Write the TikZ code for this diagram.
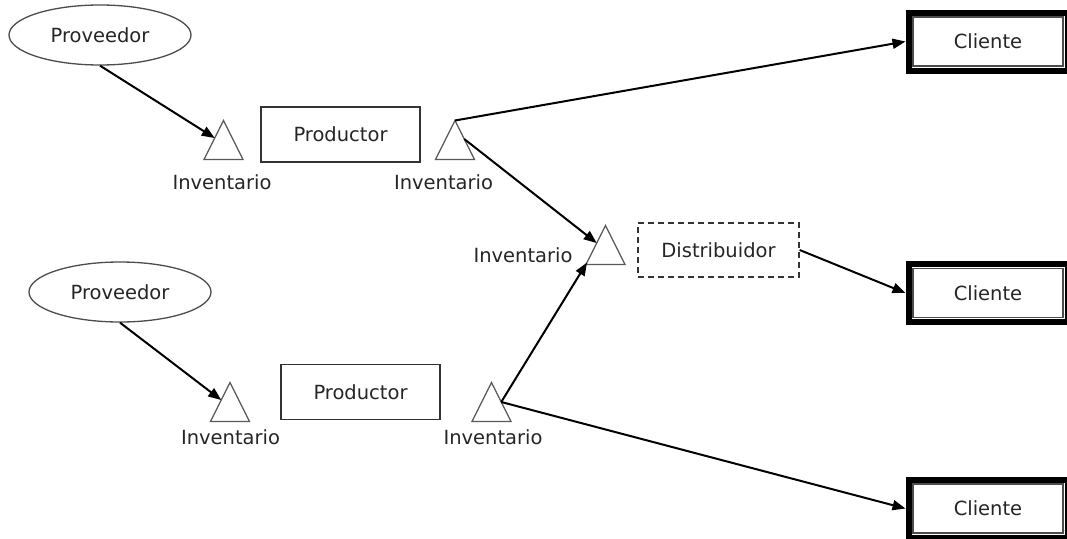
\documentclass[tikz,border=0pt]{standalone}
\usepackage{fontspec}
\setmainfont{DejaVu Sans}
\usetikzlibrary{shapes.geometric,arrows.meta,calc}
\begin{document}
\begin{tikzpicture}[x=1pt,y=-1pt,
  font=\fontsize{19.5}{22}\selectfont,
  txt/.style={text=black!85, inner sep=0pt},
  prov/.style={ellipse, draw=black!70, line width=1.3pt, minimum width=182pt,
    minimum height=60pt, inner sep=0pt, text=black!85},
  prod/.style={rectangle, draw=black!80, line width=1.3pt, minimum width=159pt,
    minimum height=55pt, inner sep=0pt, text=black!85},
  dist/.style={prod, minimum width=161pt, minimum height=54pt, dash pattern=on 6pt off 4pt},
  cli/.style={rectangle, draw=black!70, line width=1.2pt, minimum width=150pt,
    minimum height=49pt, inner sep=0pt, outer sep=7.5pt, text=black!85},
  inv/.style={rectangle, minimum width=39pt, minimum height=39pt, inner sep=0pt, outer sep=0pt},
  tri/.style={draw=black!65, line width=1.3pt, line join=miter},
  frame/.style={draw=black, line width=6pt},
  flow/.style={draw=black, line width=2pt, -{Triangle[length=13pt,width=10pt]}},
]
\clip (0,0) rectangle (1067,538);
\fill[white] (0,0) rectangle (1067,538);

% suppliers and producers
\node[prov] (p1) at (100,35) {Proveedor};
\node[prov] (p2) at (120,292) {Proveedor};
\node[prod] (pr1) at (340.5,134.5) {Productor};
\node[prod] (pr2) at (360.5,392) {Productor};
\node[dist] (dist) at (718.5,250) {Distribuidor};

% customers with heavy outer frame
\node[cli] (c1) at (988,41.5) {Cliente};
\node[cli] (c2) at (988,293) {Cliente};
\node[cli] (c3) at (988,508.5) {Cliente};
\foreach \c in {c1,c2,c3}
  \draw[frame] ([shift={(3pt,-3pt)}]\c.north west) rectangle ([shift={(-3pt,3pt)}]\c.south east);

% inventory points (triangles)
\node[inv] (t1) at (223.5,140) {};
\node[inv] (t2) at (455,140) {};
\node[inv] (t3) at (605.5,245) {};
\node[inv] (t4) at (230,402) {};
\node[inv] (t5) at (491.5,402) {};
\foreach \t in {t1,t2,t3,t4,t5}
  \draw[tri] (\t.south west) -- (\t.north) -- (\t.south east) -- cycle;

\node[txt] (l1) at (222,182) {Inventario};
\node[txt] (l2) at (443.5,182) {Inventario};
\node[txt] (l3) at (523,255) {Inventario};
\node[txt] (l4) at (230.5,437) {Inventario};
\node[txt] (l5) at (493,437) {Inventario};

% flows
\draw[flow] (p1.south) -- ($(t1.south west)!0.55!(t1.north)$);
\draw[flow] (p2.south) -- ($(t4.south west)!0.55!(t4.north)$);
\draw[flow] (t2.north) -- (c1.west);
\draw[flow] ($(t2.north)!0.475!(t2.south east)$) -- ($(t3.south west)!0.55!(t3.north)$);
\draw[flow] ($(t5.north)!0.5!(t5.south east)$) -- ($(t3.south west)!0.05!(t3.north)$);
\draw[flow] ($(t5.north)!0.5!(t5.south east)$) -- (c3.west);
\draw[flow] (dist.east) -- (c2.west);
\end{tikzpicture}
\end{document}
